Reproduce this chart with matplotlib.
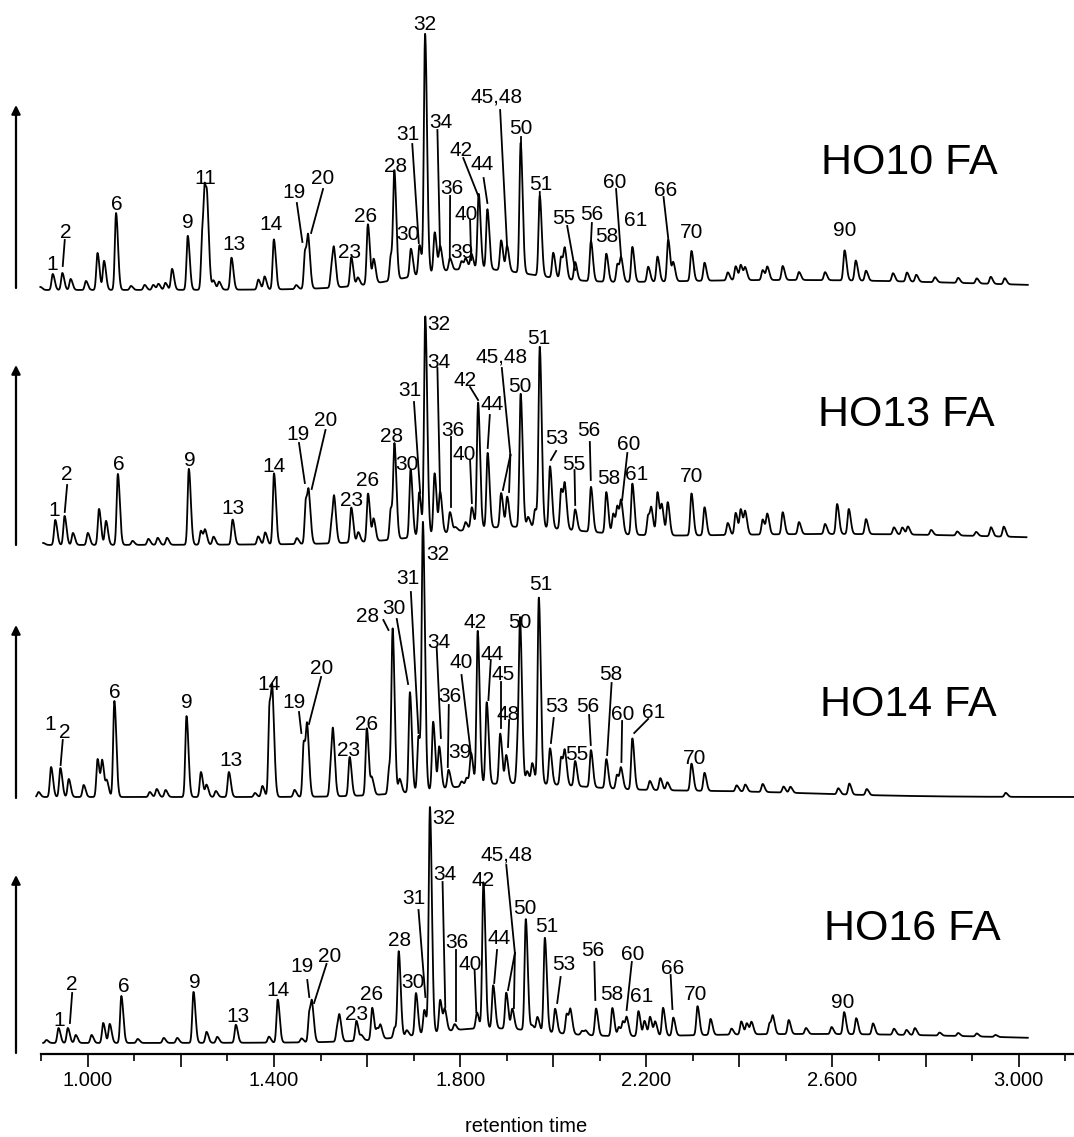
import numpy as np
import matplotlib
matplotlib.use("Agg")
import matplotlib.pyplot as plt
from matplotlib.ticker import FixedLocator, FuncFormatter

plt.rcParams['font.family'] = ['Liberation Sans', 'DejaVu Sans']

#==========================================================
# peak tables (retention time, intensity)
#==========================================================
ho10_rt = [0.898, 0.9246, 0.9452, 0.963, 0.996, 1.0208, 1.0348, 1.0606, 1.0926, 1.122,
           1.1405, 1.1517, 1.1666, 1.181, 1.2147, 1.246, 1.2516, 1.257, 1.27, 1.282,
           1.3086, 1.3664, 1.3797, 1.3997, 1.4476, 1.4668, 1.4737, 1.5239, 1.5291, 1.566,
           1.58, 1.6017, 1.6142, 1.6511, 1.6587, 1.6941, 1.7126, 1.7246, 1.7453, 1.757,
           1.778, 1.803, 1.812, 1.824, 1.8398, 1.8585, 1.888, 1.9007, 1.930, 1.971,
           2.000, 2.017, 2.025, 2.047, 2.081, 2.114, 2.138, 2.146, 2.170, 2.204,
           2.224, 2.247, 2.258, 2.297, 2.325, 2.375, 2.392, 2.403, 2.4125, 2.45,
           2.46, 2.493, 2.528, 2.584, 2.626, 2.65, 2.672, 2.73, 2.76, 2.78,
           2.82, 2.87, 2.91, 2.94, 2.97]
ho10_h = [3, 16, 17, 11, 9, 37, 29, 77, 4, 5,
          5, 6, 7, 21, 54, 55, 78, 55, 9, 8,
          32, 10, 13, 50, 4, 38, 44, 22, 30, 29,
          8, 60, 24, 25, 105, 28, 30, 240, 40, 25,
          12, 8, 10, 15, 75, 60, 30, 25, 130, 80,
          25, 22, 28, 18, 40, 28, 18, 22, 35, 15,
          25, 42, 18, 30, 18, 8, 14, 15, 12, 10,
          13, 14, 8, 8, 30, 20, 10, 8, 9, 7,
          5, 5, 5, 7, 6]

ho13_rt = [0.904, 0.930, 0.950, 0.968, 1.000, 1.024, 1.039, 1.0645, 1.096, 1.13,
           1.15, 1.17, 1.217, 1.243, 1.252, 1.27, 1.311, 1.366, 1.381, 1.400,
           1.449, 1.4685, 1.475, 1.524, 1.5295, 1.566, 1.581, 1.602, 1.614, 1.651,
           1.659, 1.6935, 1.712, 1.725, 1.745, 1.757, 1.778, 1.790, 1.8115, 1.825,
           1.8385, 1.859, 1.888, 1.901, 1.930, 1.946, 1.961, 1.971, 1.993, 2.017,
           2.025, 2.047, 2.081, 2.114, 2.129, 2.138, 2.146, 2.170, 2.204, 2.211,
           2.224, 2.2335, 2.246, 2.297, 2.325, 2.375, 2.392, 2.403, 2.4125, 2.45,
           2.46, 2.493, 2.528, 2.584, 2.610, 2.635, 2.672, 2.732, 2.750, 2.762,
           2.812, 2.868, 2.9085, 2.9405, 2.968]
ho13_h = [2, 25, 29, 12, 12, 36, 24, 71, 4, 6,
          7, 7, 76, 14, 14, 8, 25, 8, 12, 71,
          6, 44, 40, 22, 38, 35, 10, 48, 22, 31,
          91, 68, 44, 219, 61, 41, 20, 4, 8, 22,
          126, 75, 34, 30, 133, 10, 18, 180, 62, 40,
          40, 21, 45, 41, 20, 26, 30, 51, 20, 23,
          43, 28, 33, 42, 28, 12, 22, 25, 22, 15,
          20, 22, 12, 10, 30, 25, 15, 7, 7, 8,
          5, 4, 4, 9, 10]

ho14_rt = [0.894, 0.921, 0.941, 0.959, 0.991, 1.021, 1.031, 1.041, 1.057, 1.133,
           1.148, 1.167, 1.212, 1.243, 1.255, 1.275, 1.303, 1.359, 1.375, 1.3905,
           1.397, 1.444, 1.464, 1.4715, 1.522, 1.527, 1.5625, 1.5994, 1.6105, 1.6475,
           1.655, 1.670, 1.692, 1.7105, 1.720, 1.742, 1.755, 1.775, 1.803, 1.814,
           1.8235, 1.8377, 1.857, 1.886, 1.899, 1.9235, 1.9288, 1.944, 1.955, 1.969,
           1.993, 2.017, 2.025, 2.047, 2.081, 2.114, 2.137, 2.1456, 2.170, 2.2075,
           2.23, 2.245, 2.297, 2.325, 2.394, 2.4125, 2.45, 2.4947, 2.5095, 2.6124,
           2.6362, 2.6736, 2.972]
ho14_h = [5, 30, 29, 18, 12, 38, 35, 15, 96, 5,
          8, 7, 81, 25, 12, 6, 25, 4, 11, 92,
          80, 7, 55, 62, 30, 53, 39, 67, 16, 26,
          160, 14, 100, 55, 265, 68, 42, 18, 5, 8,
          32, 154, 82, 50, 28, 35, 150, 12, 20, 186,
          36, 28, 31, 25, 37, 29, 14, 20, 51, 9,
          12, 8, 27, 18, 6, 7, 8, 6, 6, 6,
          11, 6, 4]

ho16_rt = [0.911, 0.937, 0.957, 0.974, 1.008, 1.033, 1.047, 1.072, 1.107, 1.163,
           1.192, 1.227, 1.255, 1.278, 1.318, 1.389, 1.408, 1.459, 1.476, 1.482,
           1.536, 1.541, 1.577, 1.588, 1.611, 1.622, 1.629, 1.659, 1.668, 1.685,
           1.705, 1.723, 1.735, 1.757, 1.767, 1.788, 1.836, 1.850, 1.871, 1.899,
           1.912, 1.941, 1.955, 1.966, 1.982, 2.004, 2.029, 2.037, 2.062, 2.070,
           2.092, 2.127, 2.141, 2.150, 2.158, 2.183, 2.196, 2.208, 2.219, 2.236,
           2.258, 2.310, 2.338, 2.383, 2.404, 2.416, 2.426, 2.465, 2.472, 2.506,
           2.543, 2.598, 2.625, 2.651, 2.687, 2.732, 2.759, 2.777, 2.83, 2.87,
           2.91, 2.95]
ho16_h = [3, 15, 15, 8, 8, 20, 19, 47, 4, 5,
          5, 51, 11, 6, 18, 6, 43, 4, 30, 30,
          14, 20, 20, 5, 32, 10, 12, 10, 85, 6,
          42, 24, 226, 32, 21, 6, 16, 146, 43, 36,
          20, 111, 5, 14, 94, 24, 20, 22, 4, 4,
          27, 28, 9, 14, 17, 25, 15, 19, 14, 28,
          18, 29, 16, 6, 13, 11, 12, 11, 16, 14,
          6, 7, 22, 16, 11, 6, 5, 7, 3, 3,
          3, 2]

# unresolved background hump: centre, height, width
ho10_bg = [(1.82, 18, 0.13), (2.5, 10, 0.45)]
ho13_bg = [(1.90, 14, 0.15), (2.6, 11, 0.50)]
ho14_bg = [(1.90, 12, 0.15), (2.3, 6, 0.25)]
ho16_bg = [(1.85, 12, 0.13), (2.55, 9, 0.45)]

# retention time span recorded for each run
ho10_span = (0.898, 3.02)
ho13_span = (0.904, 3.017)
ho14_span = (0.889, 3.125)
ho16_span = (0.904, 3.02)

samples = ["HO10 FA", "HO13 FA", "HO14 FA", "HO16 FA"]

#==========================================================
# peak labels: text, rt, height, leader segments
#==========================================================
ho10_labels = [
    ("1", 0.9237, 28, []),
    ("2", 0.9519, 60, [((0.9504, 50), (0.9461, 24))]),
    ("6", 1.0615, 87, []),
    ("9", 1.2153, 70, []),
    ("11", 1.2516, 114, []),
    ("13", 1.3131, 47, []),
    ("14", 1.3937, 67, []),
    ("19", 1.444, 100, [((1.4491, 87), (1.461, 48))]),
    ("20", 1.5054, 114, [((1.5054, 101), (1.4797, 57))]),
    ("23", 1.5624, 40, []),
    ("26", 1.5972, 75, []),
    ("28", 1.6608, 125, []),
    ("30", 1.6883, 57, []),
    ("31", 1.6868, 158, [((1.6971, 146), (1.7111, 47))]),
    ("32", 1.7238, 267, []),
    ("34", 1.7586, 170, [((1.7511, 160), (1.7569, 40))]),
    ("36", 1.7822, 103, [((1.7784, 94), (1.7777, 30))]),
    ("39", 1.8029, 39, []),
    ("40", 1.8119, 78, [((1.8213, 70), (1.8237, 30))]),
    ("42", 1.8029, 142, [((1.8067, 132), (1.8398, 93))]),
    ("44", 1.8474, 127, [((1.8504, 112), (1.8585, 87))]),
    ("45,48", 1.8792, 195, [((1.8859, 180), (1.9007, 45))]),
    ("50", 1.9303, 164, [((1.9303, 153), (1.9303, 140))]),
    ("51", 1.9726, 108, [((1.9711, 98), (1.971, 80))]),
    ("55", 2.0227, 73, [((2.030, 64), (2.047, 20))]),
    ("56", 2.0831, 77, [((2.083, 67), (2.081, 48))]),
    ("58", 2.114, 55, []),
    ("60", 2.1329, 110, [((2.1350, 101), (2.146, 32))]),
    ("61", 2.1777, 72, []),
    ("66", 2.2411, 102, [((2.2370, 93), (2.247, 52))]),
    ("70", 2.297, 60, []),
    ("90", 2.626, 62, []),
]
ho13_labels = [
    ("1", 0.9282, 36, []),
    ("2", 0.9542, 72, [((0.9555, 60), (0.9504, 33))]),
    ("6", 1.0666, 82, []),
    ("9", 1.2198, 87, []),
    ("13", 1.3122, 38, []),
    ("14", 1.3997, 80, []),
    ("19", 1.4515, 112, [((1.4537, 102), (1.4663, 62))]),
    ("20", 1.5106, 127, [((1.5106, 115), (1.481, 56))]),
    ("23", 1.5676, 46, []),
    ("26", 1.6017, 66, []),
    ("28", 1.6527, 110, []),
    ("30", 1.686, 83, []),
    ("31", 1.692, 157, [((1.7008, 143), (1.7141, 52))]),
    ("32", 1.7547, 223, []),
    ("34", 1.7547, 185, [((1.7511, 177), (1.7569, 53))]),
    ("36", 1.7844, 117, [((1.7807, 108), (1.7807, 38))]),
    ("40", 1.8089, 93, [((1.8213, 85), (1.8252, 42))]),
    ("42", 1.8104, 167, [((1.8213, 158), (1.8385, 145))]),
    ("44", 1.8695, 142, [((1.8637, 130), (1.8592, 97))]),
    ("45,48", 1.888, 190, [((1.8895, 177), (1.9079, 90)),
                           ((1.9079, 90), (1.8918, 55)),
                           ((1.9079, 90), (1.9051, 53))]),
    ("50", 1.9288, 160, []),
    ("51", 1.969, 208, []),
    ("53", 2.0083, 108, [((2.0062, 94), (1.995, 85))]),
    ("55", 2.0436, 83, [((2.0457, 75), (2.0472, 40))]),
    ("56", 2.0756, 117, [((2.0786, 103), (2.0807, 65))]),
    ("58", 2.1203, 68, []),
    ("60", 2.1628, 102, [((2.1592, 92), (2.148, 45))]),
    ("61", 2.18, 72, []),
    ("70", 2.2969, 70, []),
]
ho14_labels = [
    ("1", 0.9186, 74, []),
    ("2", 0.9504, 67, [((0.9461, 57), (0.9415, 32))]),
    ("6", 1.0578, 107, []),
    ("9", 1.2117, 96, []),
    ("13", 1.3086, 39, []),
    ("14", 1.3885, 114, []),
    ("19", 1.444, 97, [((1.4537, 85), (1.4588, 64))]),
    ("20", 1.5033, 131, [((1.5012, 120), (1.4751, 73))]),
    ("23", 1.5602, 48, []),
    ("26", 1.5994, 74, []),
    ("28", 1.6017, 183, [((1.635, 177), (1.646, 167))]),
    ("30", 1.6572, 190, [((1.6638, 178), (1.6881, 113))]),
    ("31", 1.6868, 220, [((1.6941, 205), (1.7105, 64))]),
    ("32", 1.7511, 245, []),
    ("34", 1.7547, 157, [((1.7496, 149), (1.7586, 59))]),
    ("36", 1.7771, 102, [((1.7756, 92), (1.7734, 30))]),
    ("39", 1.7992, 47, []),
    ("40", 1.8029, 137, [((1.8029, 122), (1.8229, 44))]),
    ("42", 1.8325, 177, []),
    ("44", 1.868, 144, [((1.8658, 137), (1.8607, 97))]),
    ("45", 1.8931, 125, [((1.888, 115), (1.888, 69))]),
    ("48", 1.9028, 85, [((1.9052, 77), (1.9028, 50))]),
    ("50", 1.9288, 177, []),
    ("51", 1.9726, 214, []),
    ("53", 2.0083, 93, [((2.001, 79), (1.995, 54))]),
    ("55", 2.0509, 45, []),
    ("56", 2.0734, 93, [((2.0771, 82), (2.0807, 52))]),
    ("58", 2.1233, 124, [((2.1254, 114), (2.1158, 42))]),
    ("60", 2.1501, 85, [((2.148, 76), (2.1465, 35))]),
    ("61", 2.2151, 87, [((2.2039, 78), (2.174, 64))]),
    ("70", 2.3044, 40, []),
]
ho16_labels = [
    ("1", 0.9385, 25, []),
    ("2", 0.9645, 61, [((0.9663, 50), (0.9615, 20))]),
    ("6", 1.0763, 59, []),
    ("9", 1.2295, 62, []),
    ("13", 1.3219, 28, []),
    ("14", 1.4092, 54, []),
    ("19", 1.461, 79, [((1.4715, 63), (1.4758, 46))]),
    ("20", 1.5203, 89, [((1.5128, 79), (1.4861, 40))]),
    ("23", 1.5772, 31, []),
    ("26", 1.6105, 50, []),
    ("28", 1.6696, 104, []),
    ("30", 1.6978, 62, []),
    ("31", 1.7016, 146, [((1.7105, 133), (1.7253, 46))]),
    ("32", 1.7659, 226, []),
    ("34", 1.7674, 170, [((1.7622, 161), (1.768, 36))]),
    ("36", 1.7919, 103, [((1.7904, 93), (1.7904, 22))]),
    ("40", 1.8213, 80, [((1.831, 73), (1.8347, 31))]),
    ("42", 1.8495, 165, []),
    ("44", 1.8828, 107, [((1.8792, 93), (1.8731, 60))]),
    ("45,48", 1.8991, 190, [((1.8991, 178), (1.9176, 90)),
                            ((1.9176, 90), (1.9028, 53)),
                            ((1.9176, 90), (1.9155, 35))]),
    ("50", 1.9398, 136, []),
    ("51", 1.9862, 118, []),
    ("53", 2.0227, 80, [((2.0158, 66), (2.0085, 40))]),
    ("56", 2.0846, 95, [((2.0883, 81), (2.0904, 43))]),
    ("58", 2.1254, 50, []),
    ("60", 2.1716, 91, [((2.1688, 81), (2.1577, 33))]),
    ("61", 2.1903, 48, []),
    ("66", 2.2561, 77, [((2.2522, 68), (2.2561, 34))]),
    ("70", 2.3068, 51, []),
    ("90", 2.6214, 43, []),
]

#==========================================================
# layout
#==========================================================
W, H = 1074, 1137
ax_left_px, axis_px = 41.3, 1054
px_per_unit = 465.4
baselines = [764, 509, 257, 11]            # panel baseline height above the time axis
title_pos = [(2.7648, 131), (2.7583, 134), (2.7626, 96), (2.7718, 119)]
arrow_tip = [185, 180, 172, 168]
arrow_bot = [2, 0, -1, -10]
arrow_rt = 0.9 - (ax_left_px - 16) / px_per_unit
sig_front, sig_tail = 0.0026, 0.0042        # slightly tailing peak shape

def trace(rt, h, bg, span):
    t = np.arange(span[0], span[1], 0.0004)
    y = np.zeros_like(t)
    for r, a in zip(rt, h):
        s = np.where(t < r, sig_front, sig_tail)
        y += a * np.exp(-0.5 * ((t - r) / s) ** 2)
    for c, a, w in bg:
        y += a * np.exp(-0.5 * ((t - c) / w) ** 2)
    return t, y

fig = plt.figure(figsize=(W / 100, H / 100), dpi=100)
ax = fig.add_axes([ax_left_px / W, (H - axis_px) / H, 1 - ax_left_px / W, axis_px / H])
ax.set_xlim(0.9, 0.9 + (W - ax_left_px) / px_per_unit)
ax.set_ylim(0, axis_px)

runs = [(ho10_rt, ho10_h, ho10_bg, ho10_span, ho10_labels),
        (ho13_rt, ho13_h, ho13_bg, ho13_span, ho13_labels),
        (ho14_rt, ho14_h, ho14_bg, ho14_span, ho14_labels),
        (ho16_rt, ho16_h, ho16_bg, ho16_span, ho16_labels)]

for i, (rt, h, bg, span, labels) in enumerate(runs):
    b = baselines[i]
    t, y = trace(rt, h, bg, span)
    ax.plot(t, y + b, color="black", lw=1.3, clip_on=False, zorder=3)
    for txt, lx, ly, segs in labels:
        ax.text(lx, b + ly - 7.5, txt, ha="center", va="baseline", fontsize=15, zorder=4)
        for (x1, y1), (x2, y2) in segs:
            ax.plot([x1, x2], [b + y1, b + y2], color="black", lw=1.3, zorder=4)
    tx, ty = title_pos[i]
    ax.text(tx, b + ty - 15.5, samples[i], ha="center", va="baseline", fontsize=31)
    ax.annotate("", xy=(arrow_rt, b + arrow_tip[i]), xytext=(arrow_rt, b + arrow_bot[i]),
                arrowprops=dict(arrowstyle="-|>", lw=1.6, color="black", mutation_scale=13,
                                shrinkA=0, shrinkB=0),
                annotation_clip=False)

# time axis
for s in ["top", "right", "left"]:
    ax.spines[s].set_visible(False)
ax.spines["bottom"].set_linewidth(1.6)
ax.set_yticks([])
ax.xaxis.set_major_locator(FixedLocator(np.round(np.arange(1.0, 3.01, 0.2), 1)))
ax.xaxis.set_minor_locator(FixedLocator(np.round(np.arange(0.9, 3.11, 0.2), 1)))
ax.xaxis.set_major_formatter(FuncFormatter(
    lambda v, p: "%.3f" % v if int(round(v * 10)) % 4 == 2 else ""))
ax.tick_params(axis="x", which="major", direction="out", length=9.5, width=1.2,
               labelsize=14.5, pad=3)
ax.tick_params(axis="x", which="minor", direction="out", length=5, width=1.2)
ax.text((526 - ax_left_px) / (W - ax_left_px), -(1127 - axis_px) / axis_px, "retention time",
        transform=ax.transAxes, ha="center", va="center", fontsize=14.5)

fig.savefig("out.png", dpi=100)
